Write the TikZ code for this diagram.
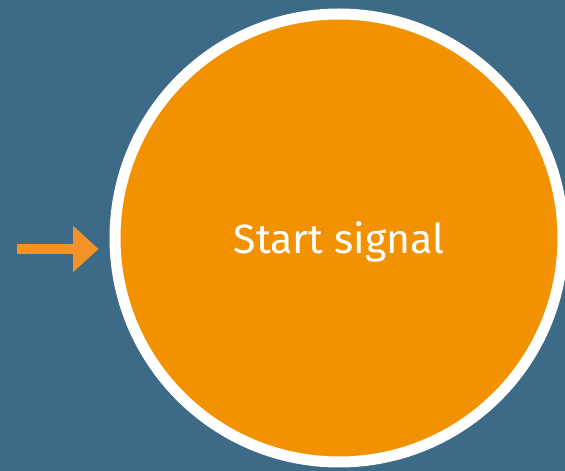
\documentclass[tikz,border=0pt]{standalone}
\usepackage{fontspec}
\setmainfont{Fira Sans}
\usetikzlibrary{arrows.meta}
\definecolor{bgblue}{HTML}{3C6A87}
\definecolor{sigorange}{HTML}{F39200}
\definecolor{arrorange}{HTML}{F39325}

\begin{document}
\begin{tikzpicture}[x=1pt,y=1pt,
    startcircle/.style={circle, draw=white, line width=11pt, fill=sigorange,
      minimum size=448pt, inner sep=0pt, text=white, text depth=0pt,
      font=\fontsize{41}{46}\selectfont},
    inarrow/.style={draw=arrorange, line width=10pt,
      -{Triangle[length=25.5pt,width=45pt]}}]
           % Hintergrund
           \fill[bgblue] (0,0) rectangle (565,471);
           \useasboundingbox (0,0) rectangle (565,471);

           % Startkreis
           \node[startcircle] (start) at (339,233) {Start signal};

           % Pfeil
           \coordinate (tail) at (17,222);
           \draw[inarrow] (tail) -- ([xshift=-11pt]start.west |- tail);
         \end{tikzpicture}
\end{document}
